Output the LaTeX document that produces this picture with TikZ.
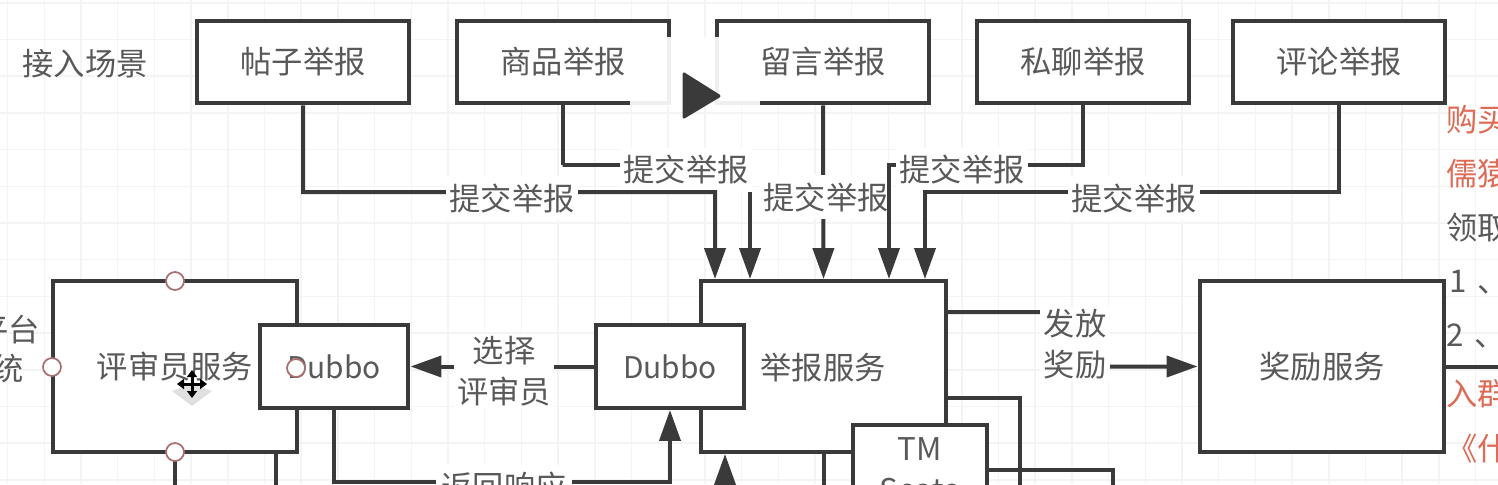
\documentclass[tikz,border=0pt]{standalone}
\usepackage{fontspec}
\setmainfont{Noto Sans CJK SC}
\usetikzlibrary{arrows.meta}
\definecolor{wirecol}{HTML}{3A3A3A}
\definecolor{textcol}{HTML}{595959}
\definecolor{gridcol}{HTML}{F4F4F4}
\definecolor{notered}{HTML}{DD6B55}
\definecolor{handlecol}{HTML}{A87070}
\tikzset{
    boxtext/.style={font=\fontsize{17.8}{23.2}\selectfont, text=textcol},
    topbox/.style={draw=wirecol, line width=0.08cm, fill=white, minimum width=4.24cm, minimum height=1.66cm, boxtext, inner sep=0},
    svcbox/.style={topbox, minimum width=4.9cm, minimum height=3.42cm},
    dubbobox/.style={topbox, minimum width=2.98cm, font=\fontsize{17}{23.2}\selectfont},
    wire/.style={draw=wirecol, line width=0.08cm},
    arrowwire/.style={wire, -{Triangle[length=0.62cm,width=0.42cm]}},
    edgelabel/.style={boxtext, fill=white, inner sep=0, minimum width=2.64cm, minimum height=0.88cm},
    stacklabel/.style={boxtext, fill=white, inner xsep=0.07cm, inner ysep=0.04cm, align=center},
    sidetext/.style={boxtext, anchor=west, inner sep=0},
    handle/.style={circle, draw=handlecol, line width=0.035cm, fill=white, minimum size=0.36cm, inner sep=0}
}
\begin{document}
\begin{tikzpicture}[x=0.02cm, y=-0.02cm]
        \useasboundingbox (0,0) rectangle (1498,484);
        \clip (0,0) rectangle (1498,484);
        \fill[white] (0,0) rectangle (1498,484);

        % Grid
        \foreach \i in {0,...,40} {
            \draw[gridcol, line width=0.03cm] (7.6+36.7*\i,0) -- (7.6+36.7*\i,484);
        }
        \foreach \i in {0,...,13} {
            \draw[gridcol, line width=0.03cm] (0,2.8+36.7*\i) -- (1498,2.8+36.7*\i);
        }

        % Scenes
        \node[boxtext] (scene) at (85,64) {接入场景};
        \node[topbox] (postrpt) at (303,62) {帖子举报};
        \node[topbox] (goodsrpt) at (563,62) {商品举报};
        \node[topbox] (msgrpt) at (823,62) {留言举报};
        \node[topbox] (chatrpt) at (1083,62) {私聊举报};
        \node[topbox] (cmtrpt) at (1339,62) {评论举报};

        % Services
        \node[svcbox] (reviewer) at (175,366.5) {评审员服务};
        \node[dubbobox] (dubboL) at (334,366.5) {Dubbo};
        \node[svcbox] (report) at (823.5,366.5) {};
        \node[boxtext] (reporttext) at (823,368) {举报服务};
        \node[dubbobox] (dubboR) at (670,366.5) {Dubbo};
        \node[svcbox] (award) at (1322,366.5) {奖励服务};
        \node[topbox, minimum width=2.68cm, minimum height=1.8cm, align=center] (tmseata) at (920,470) {TM\\Seata};

        % Bends and free ends
        \coordinate (bendA) at (562.5,165);
        \coordinate (bendB) at (715,192);
        \coordinate (bendC) at (1083,165);
        \coordinate (bendD) at (1339,192);
        \coordinate (bendE) at (1075,312);
        \coordinate (bendF) at (670,482);
        \coordinate (freeA) at (175,500);
        \coordinate (freeB) at (276,500);
        \coordinate (freeC) at (725,530);
        \coordinate (freeD) at (823.5,500);
        \coordinate (freeE) at (1020,500);
        \coordinate (freeF) at (1113,500);
        \coordinate (freeG) at (1520,366.5);

        % Submit arrows
        \draw[arrowwire] (goodsrpt.south) |- (bendA) -| ([xshift=-1.47cm]report.north);
        \node[edgelabel] (submitB) at (686,170) {提交举报};
        \draw[arrowwire] (postrpt.south) |- (bendB) -- ([xshift=-2.17cm]report.north);
        \node[edgelabel] (submitA) at (512,198) {提交举报};
        \draw[arrowwire] (msgrpt.south) -- (report.north);
        \node[edgelabel] (submitC) at (826,197) {提交举报};
        \draw[arrowwire] (chatrpt.south) |- (bendC) -| ([xshift=1.31cm]report.north);
        \node[edgelabel] (submitD) at (962,170) {提交举报};
        \draw[arrowwire] (cmtrpt.south) |- (bendD) -| ([xshift=2.03cm]report.north);
        \node[edgelabel] (submitE) at (1134,198) {提交举报};

        % Reviewer calls
        \draw[arrowwire] (dubboR.west) -- (dubboL.east);
        \node[stacklabel] (choose) at (504,371) {选择\\评审员};
        \draw[arrowwire] (dubboL.south) |- (bendF) -- (dubboR.south);
        \node[edgelabel, minimum width=2.72cm] (respond) at (504,487) {返回响应};

        % Award
        \draw[arrowwire] ([yshift=1.09cm]report.east) -- (bendE) |- (award.west);
        \node[stacklabel] (payout) at (1075,344) {发放\\奖励};

        % Lines leaving the frame
        \draw[wire] (reviewer.south) -- (freeA);
        \draw[wire] (reviewer.south -| freeB) -- (freeB);
        \draw[arrowwire] (freeC) -- (report.south -| freeC);
        \draw[wire] (report.south) -- (freeD);
        \draw[wire] ([yshift=-0.63cm]report.east) -| (freeE);
        \draw[wire] (tmseata.east) -| (freeF);
        \draw[wire] (award.east) -- (freeG);

        % Text cut by the frame
        \node[boxtext, anchor=east, inner sep=0] (leftA) at (40,330) {平台};
        \node[boxtext, anchor=east, inner sep=0] (leftB) at (24,368) {系统};
        \node[sidetext, text=notered] (noteA) at (1446,120) {购买};
        \node[sidetext, text=notered] (noteB) at (1446,174) {儒猿};
        \node[sidetext] (noteC) at (1446,228) {领取};
        \node[sidetext] (noteD) at (1449,282) {1\hspace{0.35em}、};
        \node[sidetext] (noteE) at (1446,336) {2\hspace{0.35em}、};
        \node[sidetext, text=notered] (noteF) at (1446,394) {入群};
        \node[sidetext, text=notered] (noteG) at (1446,449) {《什};

        % Selection handles
        \node[handle] (handleA) at (175,281) {};
        \node[handle] (handleB) at (52,367) {};
        \node[handle] (handleC) at (175,452) {};
        \node[handle] (handleD) at (296,368) {};

        % Move cursor
        \fill[black!12] (172,391) -- (192,406) -- (212,391) -- (192,384) -- cycle;
        \draw[black, line width=0.06cm, {Triangle[length=0.14cm,width=0.2cm]}-{Triangle[length=0.14cm,width=0.2cm]}] (177,384) -- (207,384);
        \draw[black, line width=0.06cm, {Triangle[length=0.14cm,width=0.2cm]}-{Triangle[length=0.14cm,width=0.2cm]}] (192,370) -- (192,398);

        % Play overlay
        \fill[white, opacity=0.92] (630,37) rectangle (760,106);
        \fill[wirecol, draw=wirecol, line width=0.06cm, line join=round] (684,74) -- (684,117) -- (719,96) -- cycle;
\end{tikzpicture}
\end{document}
